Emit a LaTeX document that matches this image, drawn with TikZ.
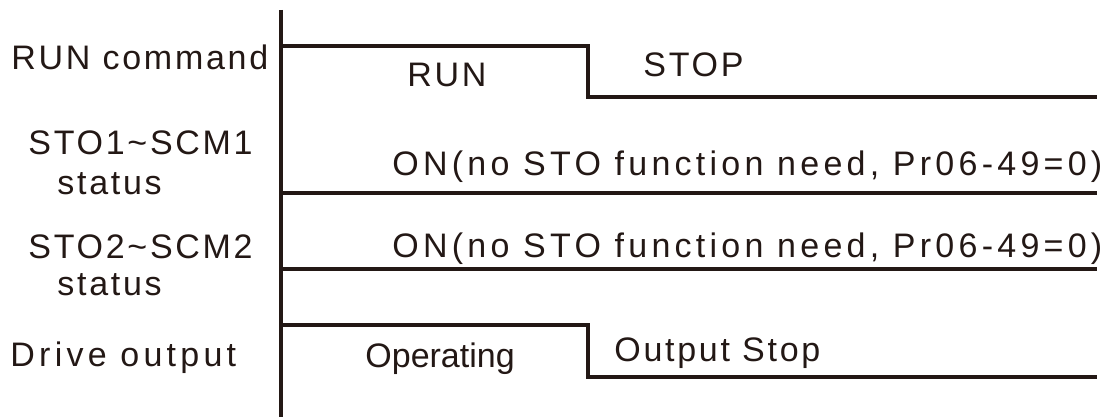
\documentclass[tikz,border=0pt]{standalone}
\usepackage{fontspec}
\usepackage{tikz}
\setmainfont{Liberation Sans}[LetterSpace=8]
\newfontfamily\wideface{Liberation Sans}[LetterSpace=12.5]
\newfontfamily\tightface{Liberation Sans}
\definecolor{ink}{RGB}{35,24,21}

\begin{document}
\begin{tikzpicture}[x=0.5pt, y=-0.5pt, every node/.style={font=\fontsize{17}{20}\selectfont, text=ink, inner sep=0pt, anchor=base west}, wave/.style={draw=ink, line width=2.3pt}]
    \useasboundingbox (0,0) rectangle (1109,417);
    % signal names
    \node (runcmd) at (11,70) {RUN command};
    \node (sto1) at (28,155) {STO1\char`\~SCM1};
    \node (sto1st) at (57,194) {status};
    \node (sto2) at (28,258) {STO2\char`\~SCM2};
    \node (sto2st) at (57,295) {status};
    \node[font=\wideface\fontsize{17}{20}\selectfont] (drv) at (10,366) {Drive output};
    % states
    \node (run) at (407,87) {RUN};
    \node (stop) at (643,77) {STOP};
    \node[font=\wideface\fontsize{17}{20}\selectfont] (on1) at (392,176) {ON(no STO function need, Pr06-49=0)};
    \node[font=\wideface\fontsize{17}{20}\selectfont] (on2) at (392,257) {ON(no STO function need, Pr06-49=0)};
    \node[font=\tightface\fontsize{17}{20}\selectfont] (oper) at (365,367) {Operating};
    \node (ostop) at (614,361) {Output Stop};
    % time axis
    \coordinate (axtop) at (281,10);
    \coordinate (axbot) at (281,417);
    \draw[wave] (axtop) -- (axbot);
    % waveforms
    \coordinate (runhi) at (281,46);
    \coordinate (runfall) at (588,46);
    \coordinate (runlo) at (588,97);
    \coordinate (runend) at (1097,97);
    \draw[wave] (runhi) -- (runfall) -- (runlo) -- (runend);
    \coordinate (s1a) at (281,193);
    \coordinate (s1b) at (1097,193);
    \draw[wave] (s1a) -- (s1b);
    \coordinate (s2a) at (281,269);
    \coordinate (s2b) at (1097,269);
    \draw[wave] (s2a) -- (s2b);
    \coordinate (drvhi) at (281,325);
    \coordinate (drvfall) at (588,325);
    \coordinate (drvlo) at (588,377);
    \coordinate (drvend) at (1097,377);
    \draw[wave] (drvhi) -- (drvfall) -- (drvlo) -- (drvend);
\end{tikzpicture}
\end{document}
